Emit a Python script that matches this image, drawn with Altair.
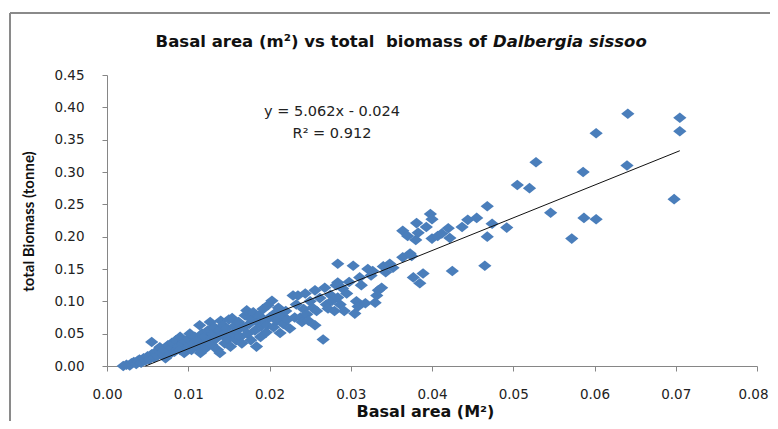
import altair as alt
import pandas as pd

# Basal area (m^2) and total biomass (tonne)
basal_area = [
    0.0020, 0.0024, 0.0028, 0.0030, 0.0033, 0.0036, 0.0038, 0.0040, 0.0042, 0.0045,
    0.0047, 0.0050, 0.0052, 0.0055, 0.0055, 0.0058, 0.0060, 0.0062, 0.0065, 0.0067,
    0.0070, 0.0072, 0.0075, 0.0077, 0.0080, 0.0080, 0.0083, 0.0085, 0.0088, 0.0090,
    0.0090, 0.0093, 0.0095, 0.0097, 0.0100, 0.0100,
    0.0102, 0.0104, 0.0106, 0.0108, 0.0110, 0.0112, 0.0114, 0.0115, 0.0117, 0.0119,
    0.0120, 0.0122, 0.0124, 0.0126, 0.0127, 0.0129, 0.0130, 0.0132, 0.0134, 0.0136,
    0.0138, 0.0139, 0.0140, 0.0142, 0.0143, 0.0145, 0.0147, 0.0149, 0.0150, 0.0152,
    0.0154, 0.0155, 0.0157, 0.0159, 0.0160, 0.0162, 0.0164, 0.0166, 0.0168, 0.0170,
    0.0172, 0.0173, 0.0175, 0.0177, 0.0178, 0.0180, 0.0182, 0.0184, 0.0185, 0.0187,
    0.0189, 0.0190, 0.0192, 0.0194, 0.0196, 0.0197, 0.0198, 0.0200,
    0.0203, 0.0205, 0.0207, 0.0209, 0.0211, 0.0213, 0.0215, 0.0217, 0.0220, 0.0222,
    0.0225, 0.0229, 0.0231, 0.0233, 0.0235, 0.0238, 0.0240, 0.0242, 0.0244, 0.0246,
    0.0248, 0.0250, 0.0253, 0.0256, 0.0256, 0.0258, 0.0262, 0.0266, 0.0268, 0.0270,
    0.0272, 0.0275, 0.0277, 0.0280, 0.0282, 0.0284, 0.0284, 0.0284, 0.0287, 0.0290,
    0.0292, 0.0295, 0.0298,
    0.0303, 0.0305, 0.0307, 0.0309, 0.0311, 0.0313, 0.0318, 0.0321, 0.0325, 0.0327,
    0.0330, 0.0332, 0.0334, 0.0338, 0.0340, 0.0343, 0.0348, 0.0352, 0.0364, 0.0364,
    0.0370, 0.0373, 0.0375, 0.0377, 0.0380, 0.0381, 0.0383, 0.0385, 0.0389, 0.0393,
    0.0398, 0.0400, 0.0400,
    0.0407, 0.0412, 0.0420, 0.0422, 0.0425, 0.0437, 0.0444, 0.0455, 0.0465, 0.0468,
    0.0468, 0.0474, 0.0492, 0.0505, 0.0520, 0.0528, 0.0546, 0.0572, 0.0586, 0.0587,
    0.0602, 0.0602, 0.0640, 0.0641, 0.0698, 0.0705, 0.0705,
]
biomass = [
    0.000, 0.002, 0.001, 0.004, 0.006, 0.003, 0.008, 0.010, 0.005, 0.012,
    0.008, 0.015, 0.010, 0.037, 0.018, 0.013, 0.022, 0.016, 0.029, 0.020,
    0.025, 0.012, 0.032, 0.018, 0.028, 0.036, 0.022, 0.040, 0.030, 0.045,
    0.025, 0.035, 0.020, 0.038, 0.030, 0.042,
    0.050, 0.025, 0.035, 0.045, 0.030, 0.040, 0.063, 0.020, 0.050, 0.035,
    0.045, 0.028, 0.055, 0.040, 0.068, 0.033, 0.050, 0.060, 0.042, 0.025,
    0.055, 0.020, 0.070, 0.048, 0.063, 0.035, 0.058, 0.042, 0.072, 0.030,
    0.074, 0.050, 0.062, 0.040, 0.055, 0.068, 0.045, 0.035, 0.060, 0.078,
    0.086, 0.050, 0.065, 0.040, 0.072, 0.083, 0.055, 0.030, 0.068, 0.078,
    0.045, 0.062, 0.088, 0.070, 0.052, 0.063, 0.094, 0.075,
    0.101, 0.060, 0.082, 0.070, 0.090, 0.051, 0.078, 0.065, 0.085, 0.072,
    0.058, 0.109, 0.075, 0.095, 0.109, 0.075, 0.068, 0.088, 0.112, 0.080,
    0.070, 0.100, 0.090, 0.117, 0.063, 0.085, 0.105, 0.041, 0.121, 0.095,
    0.089, 0.110, 0.101, 0.085, 0.125, 0.158, 0.129, 0.106, 0.095, 0.120,
    0.085, 0.112, 0.130,
    0.155, 0.081, 0.100, 0.092, 0.137, 0.125, 0.097, 0.150, 0.140, 0.147,
    0.098, 0.109, 0.117, 0.121, 0.154, 0.145, 0.158, 0.152, 0.209, 0.168,
    0.201, 0.174, 0.170, 0.137, 0.195, 0.221, 0.206, 0.128, 0.143, 0.215,
    0.235, 0.227, 0.197,
    0.201, 0.205, 0.213, 0.198, 0.147, 0.215, 0.226, 0.229, 0.155, 0.247,
    0.200, 0.220, 0.214, 0.280, 0.275, 0.315, 0.237, 0.197, 0.300, 0.229,
    0.360, 0.227, 0.310, 0.390, 0.258, 0.384, 0.363,
]

# Trend line shown on the chart
slope = 5.062
intercept = -0.024
equation_text = "y = 5.062x - 0.024"
r2_text = "R² = 0.912"

x_ticks = [0.00, 0.01, 0.02, 0.03, 0.04, 0.05, 0.06, 0.07, 0.08]
y_ticks = [0.00, 0.05, 0.10, 0.15, 0.20, 0.25, 0.30, 0.35, 0.40, 0.45]

title_regular = "Basal area (m²) vs total \u00a0biomass of"
title_italic = "Dalbergia sissoo"
x_title = "Basal area (M²)"
y_title = "total Biomass (tonne)"

points = pd.DataFrame({"x": basal_area, "y": biomass})
x0 = -intercept / slope
x1 = max(basal_area)
trend = pd.DataFrame({"x": [x0, x1], "y": [slope * x0 + intercept, slope * x1 + intercept]})
one = pd.DataFrame({"k": [0]})

W, H = 650, 291
xscale = alt.Scale(domain=[0, 0.08], nice=False, zero=False)
yscale = alt.Scale(domain=[0, 0.45], nice=False)

axis_common = dict(
    grid=False, domainColor="#868686", tickColor="#868686", tickSize=5,
    labelFont="DejaVu Sans", labelFontSize=13.5, labelColor="#222222",
    labelOverlap=False, labelFlush=False, format=".2f",
    titleFontWeight="bold", titleColor="#111111",
)

xaxis = alt.Axis(values=x_ticks, tickCount=9, labelPadding=16, title=x_title,
                 labelOffset={"condition": {"test": "datum.value > 0.075", "value": -4},
                              "value": 0},
                 titleFont="DejaVu Sans", titleFontSize=16,
                 titleX=318, titleY=50, titleAlign="center",
                 titleBaseline="alphabetic", **axis_common)
yaxis = alt.Axis(values=y_ticks, tickCount=10, labelPadding=18, title=y_title,
                 titleFont="Lato", titleFontSize=15,
                 titleX=-74, titleY=146, titleAlign="center", titleAngle=270,
                 titleBaseline="alphabetic", **axis_common)

diamond = "M0,-0.8L1,0L0,0.8L-1,0Z"

scatter = alt.Chart(points).mark_point(
    shape=diamond, filled=True, size=175, opacity=1, color="#4a7ebb", strokeWidth=0
).encode(
    x=alt.X("x:Q", scale=xscale, axis=xaxis),
    y=alt.Y("y:Q", scale=yscale, axis=yaxis),
)

line = alt.Chart(trend).mark_line(color="#111111", strokeWidth=1).encode(
    x=alt.X("x:Q", scale=xscale, axis=xaxis),
    y=alt.Y("y:Q", scale=yscale, axis=yaxis),
)

title_font = dict(font="DejaVu Sans", fontSize=16.5, fontWeight="bold",
                  baseline="alphabetic", color="#111111")
t1 = alt.Chart(one).mark_text(align="right", **title_font).encode(
    x=alt.value(380), y=alt.value(-28), text=alt.value(title_regular))
t2 = alt.Chart(one).mark_text(align="left", fontStyle="italic", **title_font).encode(
    x=alt.value(386), y=alt.value(-28), text=alt.value(title_italic))

eq_font = dict(font="DejaVu Sans", fontSize=14.5, align="center",
               baseline="alphabetic", color="#222222")
eq1 = alt.Chart(one).mark_text(**eq_font).encode(
    x=alt.value(225), y=alt.value(41), text=alt.value(equation_text))
eq2 = alt.Chart(one).mark_text(**eq_font).encode(
    x=alt.value(225), y=alt.value(63), text=alt.value(r2_text))

border_left = alt.Chart(one).mark_rule(color="#8a8a8a", strokeWidth=2).encode(
    x=alt.value(-97), y=alt.value(-62), y2=alt.value(346))
border_top = alt.Chart(one).mark_rule(color="#8a8a8a", strokeWidth=2).encode(
    x=alt.value(-97), x2=alt.value(663), y=alt.value(-62))

chart = alt.layer(
    border_left, border_top, scatter, line, t1, t2, eq1, eq2
).properties(
    width=W, height=H,
    autosize=alt.AutoSizeParams(type="none"),
    padding={"left": 99, "top": 67, "right": 13, "bottom": 55},
    background="white",
).configure_view(stroke=None)

chart.save("out.html", embed_options={"renderer": "svg", "actions": False})
